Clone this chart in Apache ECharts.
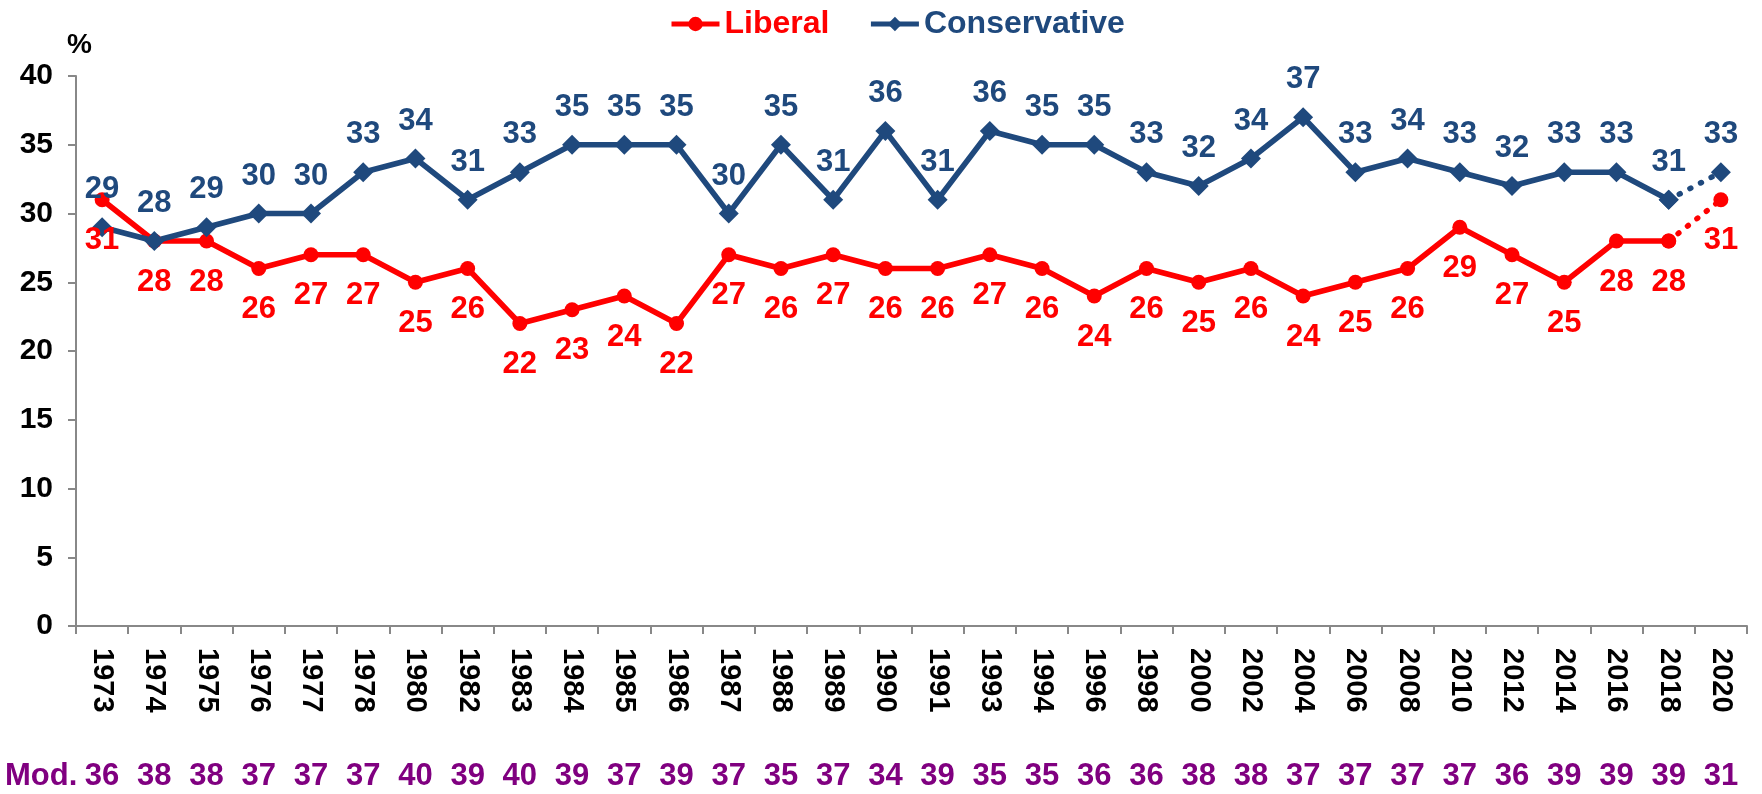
<!DOCTYPE html>
<html>
<head>
<meta charset="utf-8">
<script src="https://cdn.jsdelivr.net/npm/echarts@6/dist/echarts.min.js"></script>
<style>
html,body{margin:0;padding:0;background:#fff;}
#chart{width:1762px;height:794px;}
</style>
</head>
<body>
<div id="chart"></div>
<script>
const categories = ['1973','1974','1975','1976','1977','1978','1980','1982','1983','1984','1985','1986','1987','1988','1989','1990','1991','1993','1994','1996','1998','2000','2002','2004','2006','2008','2010','2012','2014','2016','2018','2020'];
const liberal = [31,28,28,26,27,27,25,26,22,23,24,22,27,26,27,26,26,27,26,24,26,25,26,24,25,26,29,27,25,28,28,31];
const conservative = [29,28,29,30,30,33,34,31,33,35,35,35,30,35,31,36,31,36,35,35,33,32,34,37,33,34,33,32,33,33,31,33];
const moderate = [36,38,38,37,37,37,40,39,40,39,37,39,37,35,37,34,39,35,35,36,36,38,38,37,37,37,37,36,39,39,39,31];

const RED = '#FF0000';
const NAVY = '#1F497D';
const PURPLE = '#800080';
const FONT = '"Liberation Sans", Arial, sans-serif';
const n = categories.length;

const solid = arr => arr.map((v, i) => (i < n - 1 ? v : '-'));
const dotted = arr => arr.map((v, i) => (i >= n - 2 ? v : '-'));

const chart = echarts.init(document.getElementById('chart'));
chart.setOption({
  animation: false,
  backgroundColor: '#fff',
  textStyle: { fontFamily: FONT },
  legend: {
    top: 3,
    left: 664,
    itemWidth: 48,
    itemHeight: 18,
    itemGap: 39,
    lineStyle: { width: 5 },
    textStyle: { fontSize: 32, fontWeight: 'bold', fontFamily: FONT },
    data: [
      { name: 'Liberal', textStyle: { color: RED } },
      { name: 'Conservative', textStyle: { color: NAVY } }
    ]
  },
  grid: { left: 76, right: 15, top: 76, bottom: 168, containLabel: false },
  xAxis: [
    {
      type: 'category',
      data: categories,
      boundaryGap: true,
      axisLine: { lineStyle: { color: '#888', width: 2 } },
      axisTick: { show: true, alignWithLabel: false, length: 8, lineStyle: { color: '#888', width: 2 } },
      axisLabel: { interval: 0, rotate: -90, margin: 22, fontSize: 29, fontWeight: 'bold', color: '#000', fontFamily: FONT },
      splitLine: { show: false }
    },
    {
      type: 'category',
      data: categories,
      position: 'bottom',
      boundaryGap: true,
      axisLine: { show: false },
      axisTick: { show: false },
      axisLabel: {
        interval: 0, margin: 135, fontSize: 31, fontWeight: 'bold', color: PURPLE, fontFamily: FONT,
        formatter: (v, i) => String(moderate[i])
      },
      splitLine: { show: false }
    }
  ],
  yAxis: {
    type: 'value',
    min: 0, max: 40, interval: 5,
    name: '%',
    nameLocation: 'end',
    nameGap: 17,
    nameTextStyle: { fontSize: 28, fontWeight: 'bold', color: '#000', fontFamily: FONT, align: 'right', padding: [0, -16, 0, 0] },
    axisLine: { show: true, lineStyle: { color: '#888', width: 2 } },
    axisTick: { show: true, length: 8, lineStyle: { color: '#888', width: 2 } },
    axisLabel: { margin: 23, fontSize: 30, fontWeight: 'bold', color: '#000', fontFamily: FONT },
    splitLine: { show: false }
  },
  graphic: [
    { type: 'text', left: 5, top: 761, style: { text: 'Mod.', fontSize: 31, fontWeight: 'bold', fill: PURPLE, fontFamily: FONT } }
  ],
  series: [
    {
      name: 'Liberal', type: 'line', data: solid(liberal),
      symbol: 'circle', symbolSize: 15, itemStyle: { color: RED },
      lineStyle: { color: RED, width: 5.5 },
      label: { show: true, position: 'bottom', distance: 18, fontSize: 31, fontWeight: 'bold', color: RED, fontFamily: FONT }
    },
    {
      name: 'Liberal', type: 'line', data: dotted(liberal),
      symbol: 'circle', symbolSize: 15, itemStyle: { color: RED },
      lineStyle: { color: RED, width: 5.5, type: [1, 11], cap: 'round' },
      label: { show: true, position: 'bottom', distance: 18, fontSize: 31, fontWeight: 'bold', color: RED, fontFamily: FONT,
        formatter: p => (p.dataIndex === n - 1 ? String(p.value) : '') }
    },
    {
      name: 'Conservative', type: 'line', data: solid(conservative),
      symbol: 'diamond', symbolSize: 20, itemStyle: { color: NAVY },
      lineStyle: { color: NAVY, width: 5.5 },
      label: { show: true, position: 'top', distance: 12, fontSize: 31, fontWeight: 'bold', color: NAVY, fontFamily: FONT }
    },
    {
      name: 'Conservative', type: 'line', data: dotted(conservative),
      symbol: 'diamond', symbolSize: 20, itemStyle: { color: NAVY },
      lineStyle: { color: NAVY, width: 5.5, type: [1, 11], cap: 'round' },
      label: { show: true, position: 'top', distance: 12, fontSize: 31, fontWeight: 'bold', color: NAVY, fontFamily: FONT,
        formatter: p => (p.dataIndex === n - 1 ? String(p.value) : '') }
    }
  ]
});
</script>
</body>
</html>
